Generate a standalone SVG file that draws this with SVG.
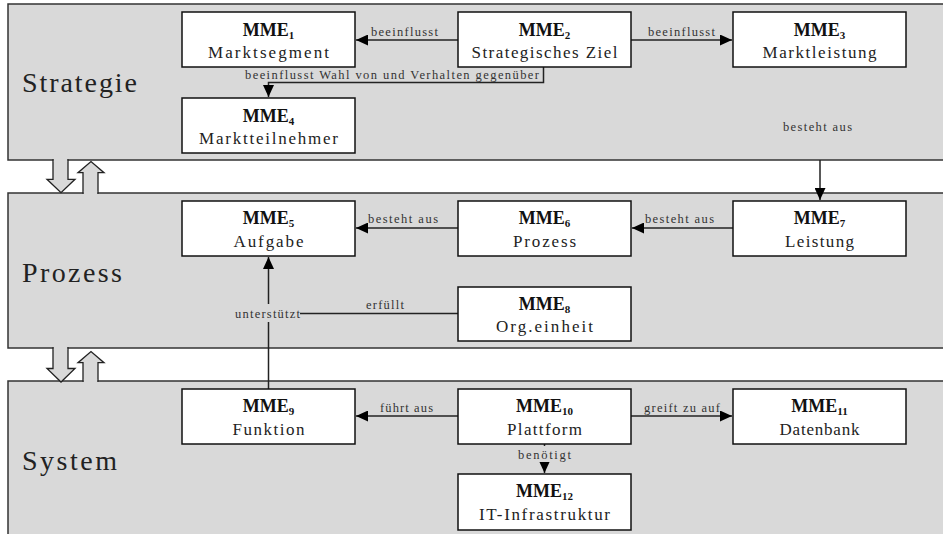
<svg xmlns="http://www.w3.org/2000/svg" width="943" height="534" viewBox="0 0 943 534">
<defs>
<style>
.layer{fill:#d9d9d9;stroke:#333;stroke-width:1.5}
.blk{fill:#d9d9d9;stroke:#222;stroke-width:1.3}
.patch{fill:#d9d9d9;stroke:none}
.node rect{fill:#fff;stroke:#111;stroke-width:1.5}
text{font-family:"Liberation Serif","Times New Roman","DejaVu Serif",serif}
.mme{font-weight:bold;font-size:18px;fill:#111;text-anchor:middle}
.sub{font-size:11px}
.name{font-size:17px;fill:#222;text-anchor:middle}
.lt{font-size:28px;fill:#222}
.el{font-size:12.5px;fill:#333;text-anchor:middle}
.edge{fill:none;stroke:#222;stroke-width:1.5}
</style>
<marker id="ah" markerUnits="userSpaceOnUse" markerWidth="13" markerHeight="11" refX="12" refY="5.5" orient="auto">
<path d="M0,0 L12,5.5 L0,11 z" fill="#000"/>
</marker>
</defs>

<g id="layers">
<rect class="layer" x="8" y="4" width="945" height="156"/>
<rect class="layer" x="8" y="193" width="945" height="155"/>
<rect class="layer" x="8" y="381" width="945" height="160"/>
<text class="lt" x="22" y="92" textLength="115" lengthAdjust="spacing">Strategie</text>
<text class="lt" x="22" y="282" textLength="100" lengthAdjust="spacing">Prozess</text>
<text class="lt" x="22" y="470" textLength="95" lengthAdjust="spacing">System</text>
</g>

<g id="layer-arrows">
<polygon class="blk" points="53,160 53,179.3 47,179.3 61,192.7 75,179.3 68,179.3 68,160"/>
<rect class="patch" x="53.8" y="158.3" width="13.4" height="3.2"/>
<polygon class="blk" points="83,193 83,172.7 78,172.7 91,161.5 104,172.7 98,172.7 98,193"/>
<rect class="patch" x="83.8" y="191.5" width="13.4" height="3.2"/>
<polygon class="blk" points="53,348 53,368.5 47,368.5 61,382 75,368.5 68,368.5 68,348"/>
<rect class="patch" x="53.8" y="346.3" width="13.4" height="3.2"/>
<polygon class="blk" points="83,381 83,362.7 78,362.7 91,351.5 104,362.7 98,362.7 98,381"/>
<rect class="patch" x="83.8" y="379.5" width="13.4" height="3.2"/>
</g>

<g id="connectors">
<line class="edge" x1="458" y1="40" x2="356" y2="40" marker-end="url(#ah)"/>
<text class="el" x="404.5" y="36" textLength="67" lengthAdjust="spacing">beeinflusst</text>
<line class="edge" x1="631" y1="40" x2="732" y2="40" marker-end="url(#ah)"/>
<text class="el" x="681.5" y="36" textLength="67" lengthAdjust="spacing">beeinflusst</text>
<path class="edge" d="M543.5,67 V82.5 H268.5 V97" marker-end="url(#ah)"/>
<text class="el" x="392" y="78.5" textLength="294" lengthAdjust="spacing">beeinflusst Wahl von und Verhalten gegenüber</text>
<line class="edge" x1="820" y1="160" x2="820" y2="200" marker-end="url(#ah)"/>
<text class="el" x="817.5" y="131" textLength="69" lengthAdjust="spacing">besteht aus</text>
<line class="edge" x1="458" y1="228" x2="356" y2="228" marker-end="url(#ah)"/>
<text class="el" x="403" y="222.5" textLength="70" lengthAdjust="spacing">besteht aus</text>
<line class="edge" x1="733" y1="228" x2="632" y2="228" marker-end="url(#ah)"/>
<text class="el" x="679.5" y="222.5" textLength="69" lengthAdjust="spacing">besteht aus</text>
<line class="edge" x1="268.5" y1="389" x2="268.5" y2="257" marker-end="url(#ah)"/>
<line class="edge" x1="458" y1="313.5" x2="300" y2="313.5"/>
<rect class="patch" x="234" y="304" width="66" height="18"/>
<text class="el" x="267.5" y="318" textLength="65" lengthAdjust="spacing">unterstützt</text>
<text class="el" x="385" y="309" textLength="38" lengthAdjust="spacing">erfüllt</text>
<line class="edge" x1="458" y1="416" x2="356" y2="416" marker-end="url(#ah)"/>
<text class="el" x="406.5" y="411.5" textLength="53" lengthAdjust="spacing">führt aus</text>
<line class="edge" x1="631" y1="416" x2="732" y2="416" marker-end="url(#ah)"/>
<text class="el" x="682" y="411.5" textLength="76" lengthAdjust="spacing">greift zu auf</text>
<line class="edge" x1="544.5" y1="444" x2="544.5" y2="473" marker-end="url(#ah)"/>
<rect class="patch" x="516" y="446" width="57" height="16"/>
<text class="el" x="544.5" y="459" textLength="53" lengthAdjust="spacing">benötigt</text>
</g>

<g id="mme1" class="node"><rect x="182" y="12" width="173" height="55"/>
<text class="mme" x="268.5" y="36">MME<tspan class="sub" dy="3">1</tspan></text>
<text class="name" x="268.5" y="58" textLength="121" lengthAdjust="spacing">Marktsegment</text></g>

<g id="mme2" class="node"><rect x="458" y="12" width="173" height="55"/>
<text class="mme" x="544.5" y="36">MME<tspan class="sub" dy="3">2</tspan></text>
<text class="name" x="544.5" y="58" textLength="146" lengthAdjust="spacing">Strategisches Ziel</text></g>

<g id="mme3" class="node"><rect x="733" y="12" width="173" height="55"/>
<text class="mme" x="819.5" y="36">MME<tspan class="sub" dy="3">3</tspan></text>
<text class="name" x="819.5" y="58" textLength="114" lengthAdjust="spacing">Marktleistung</text></g>

<g id="mme4" class="node"><rect x="182" y="98" width="173" height="55"/>
<text class="mme" x="268.5" y="122">MME<tspan class="sub" dy="3">4</tspan></text>
<text class="name" x="268.5" y="144" textLength="139" lengthAdjust="spacing">Marktteilnehmer</text></g>

<g id="mme5" class="node"><rect x="182" y="201" width="173" height="55"/>
<text class="mme" x="268.5" y="224">MME<tspan class="sub" dy="3">5</tspan></text>
<text class="name" x="268.5" y="246.5" textLength="70" lengthAdjust="spacing">Aufgabe</text></g>

<g id="mme6" class="node"><rect x="458" y="201" width="173" height="55"/>
<text class="mme" x="544.5" y="224">MME<tspan class="sub" dy="3">6</tspan></text>
<text class="name" x="544.5" y="246.5" textLength="63" lengthAdjust="spacing">Prozess</text></g>

<g id="mme7" class="node"><rect x="733" y="201" width="173" height="55"/>
<text class="mme" x="819.5" y="224">MME<tspan class="sub" dy="3">7</tspan></text>
<text class="name" x="819.5" y="246.5" textLength="69" lengthAdjust="spacing">Leistung</text></g>

<g id="mme8" class="node"><rect x="458" y="287" width="173" height="54"/>
<text class="mme" x="544.5" y="310">MME<tspan class="sub" dy="3">8</tspan></text>
<text class="name" x="544.5" y="332" textLength="97" lengthAdjust="spacing">Org.einheit</text></g>

<g id="mme9" class="node"><rect x="182" y="389" width="173" height="55"/>
<text class="mme" x="268.5" y="412">MME<tspan class="sub" dy="3">9</tspan></text>
<text class="name" x="268.5" y="435" textLength="72" lengthAdjust="spacing">Funktion</text></g>

<g id="mme10" class="node"><rect x="458" y="389" width="173" height="55"/>
<text class="mme" x="544.5" y="412">MME<tspan class="sub" dy="3">10</tspan></text>
<text class="name" x="544.5" y="435" textLength="75" lengthAdjust="spacing">Plattform</text></g>

<g id="mme11" class="node"><rect x="733" y="389" width="173" height="55"/>
<text class="mme" x="819.5" y="412">MME<tspan class="sub" dy="3">11</tspan></text>
<text class="name" x="819.5" y="435" textLength="80" lengthAdjust="spacing">Datenbank</text></g>

<g id="mme12" class="node"><rect x="458" y="474" width="173" height="56"/>
<text class="mme" x="544.5" y="497">MME<tspan class="sub" dy="3">12</tspan></text>
<text class="name" x="544.5" y="520" textLength="131" lengthAdjust="spacing">IT-Infrastruktur</text></g>
</svg>
